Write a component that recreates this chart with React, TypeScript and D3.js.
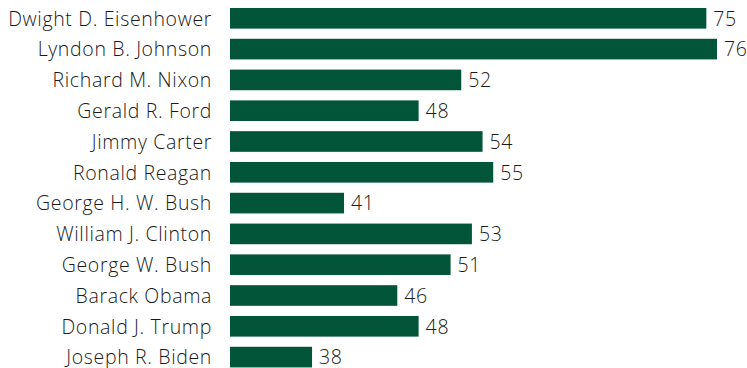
import React from "react";
import * as d3 from "d3";

const presidents = [
  "Dwight D. Eisenhower",
  "Lyndon B. Johnson",
  "Richard M. Nixon",
  "Gerald R. Ford",
  "Jimmy Carter",
  "Ronald Reagan",
  "George H. W. Bush",
  "William J. Clinton",
  "George W. Bush",
  "Barack Obama",
  "Donald J. Trump",
  "Joseph R. Biden",
];
const values = [75, 76, 52, 48, 54, 55, 41, 53, 51, 46, 48, 38];

const W = 747;
const H = 368;

export default function App() {
  const x = d3.scaleLinear().domain([30.3, 76]).range([230, 717]);
  const y = d3
    .scaleBand<string>()
    .domain(presidents)
    .range([2.9, 2.9 + 12 * 30.8])
    .paddingInner(0.33)
    .paddingOuter(0.165);
  const font = "'Open Sans', sans-serif";
  return (
    <svg
      width={W}
      height={H}
      style={{ position: "absolute", left: 0, top: 0, background: "#fff" }}
    >
      {presidents.map((p, i) => {
        const yy = y(p)!;
        const c = yy + y.bandwidth() / 2;
        return (
          <g key={p}>
            <text
              x={212}
              y={c}
              dy="0.37em"
              textAnchor="end"
              fontFamily={font}
              fontSize={19.5}
              fontWeight={300}
              letterSpacing={0.65}
              fill="#1a1a1a"
            >
              {p}
            </text>
            <rect
              x={x(30.3)}
              y={yy}
              width={x(values[i]) - x(30.3)}
              height={y.bandwidth()}
              fill="#03553a"
            />
            <text
              x={x(values[i]) + 7}
              y={c}
              dy="0.37em"
              fontFamily={font}
              fontSize={19.5}
              fontWeight={300}
              letterSpacing={0.65}
              fill="#1a1a1a"
            >
              {values[i]}
            </text>
          </g>
        );
      })}
    </svg>
  );
}
